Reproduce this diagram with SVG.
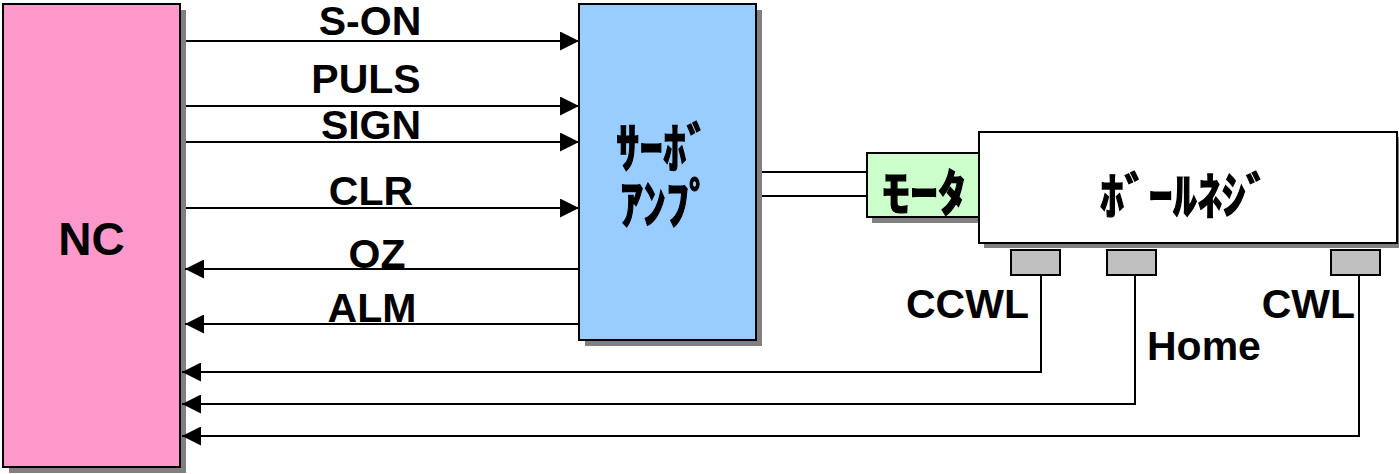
<svg xmlns="http://www.w3.org/2000/svg" width="1399" height="474" viewBox="0 0 1399 474">
<defs>
<marker id="arr" markerUnits="userSpaceOnUse" markerWidth="19" markerHeight="19" refX="19" refY="9.5" orient="auto">
<path d="M0,0 L19,9.5 L0,19 z" fill="#000"/>
</marker>
</defs>
<style>
.shadow{fill:#808080;stroke:none}
.box{stroke:#000;stroke-width:2}
.lbl{font-family:"Liberation Sans",Arial,sans-serif;font-weight:bold;font-size:41px;fill:#000}
.jp{font-family:"Noto Sans CJK JP",sans-serif;font-weight:bold;fill:#000;stroke:#000;stroke-width:1.2}
.wire{fill:none;stroke:#000;stroke-width:2}
</style>
<rect width="1399" height="474" fill="#fff"/>
<g id="nc">
<rect class="shadow" x="9" y="10" width="177" height="463"/>
<rect class="box" x="3" y="4" width="177" height="463" fill="#FF99CC"/>
<text class="lbl" x="91.5" y="255" text-anchor="middle" style="font-size:46px">NC</text>
</g>
<g id="servo">
<rect class="shadow" x="585" y="10" width="177" height="336"/>
<rect class="box" x="579" y="4" width="177" height="336" fill="#99CCFF"/>
<text class="jp" font-size="54"><tspan x="616" y="168" textLength="94" lengthAdjust="spacingAndGlyphs">ｻｰﾎﾞ</tspan><tspan x="620" y="224" textLength="92" lengthAdjust="spacingAndGlyphs">ｱﾝﾌﾟ</tspan></text>
</g>
<g id="motor">
<rect class="shadow" x="872" y="158" width="112" height="65"/>
<rect class="box" x="867" y="153" width="112" height="64" fill="#CCFFCC"/>
<text class="jp" x="882" y="211" font-size="50" textLength="84" lengthAdjust="spacingAndGlyphs">ﾓｰﾀ</text>
</g>
<g id="ballscrew">
<rect class="shadow" x="984" y="137" width="415" height="111"/>
<rect class="box" x="979" y="132" width="418" height="111" fill="#FFFFFF"/>
<text class="jp" x="1100" y="214" font-size="50" textLength="170" lengthAdjust="spacingAndGlyphs">ﾎﾞｰﾙﾈｼﾞ</text>
</g>
<g id="sensor-ccwl">
<rect class="box" x="1011" y="250" width="49" height="25" fill="#C0C0C0"/>
</g>
<g id="sensor-home">
<rect class="box" x="1107" y="250" width="49" height="25" fill="#C0C0C0"/>
</g>
<g id="sensor-cwl">
<rect class="box" x="1331" y="250" width="49" height="25" fill="#C0C0C0"/>
</g>
<g id="connectors">
<path class="wire" d="M186,41 H579" marker-end="url(#arr)"/>
<path class="wire" d="M186,106 H579" marker-end="url(#arr)"/>
<path class="wire" d="M186,142 H579" marker-end="url(#arr)"/>
<path class="wire" d="M186,208 H579" marker-end="url(#arr)"/>
<path class="wire" d="M579,269 H185" marker-end="url(#arr)"/>
<path class="wire" d="M579,324 H185" marker-end="url(#arr)"/>
<path class="wire" d="M762,172 H867"/>
<path class="wire" d="M762,196 H867"/>
<path class="wire" d="M1041,275 V372 H182" marker-end="url(#arr)"/>
<path class="wire" d="M1135,275 V404 H182" marker-end="url(#arr)"/>
<path class="wire" d="M1359,275 V436 H182" marker-end="url(#arr)"/>
</g>
<g id="labels">
<text class="lbl" x="370" y="35" text-anchor="middle">S-ON</text>
<text class="lbl" x="366" y="93" text-anchor="middle">PULS</text>
<text class="lbl" x="371" y="139" text-anchor="middle">SIGN</text>
<text class="lbl" x="371" y="205" text-anchor="middle">CLR</text>
<text class="lbl" x="377" y="268" text-anchor="middle">OZ</text>
<text class="lbl" x="372" y="322" text-anchor="middle">ALM</text>
<text class="lbl" x="906" y="318">CCWL</text>
<text class="lbl" x="1355" y="318" text-anchor="end">CWL</text>
<text class="lbl" x="1147" y="360">Home</text>
</g>
</svg>
